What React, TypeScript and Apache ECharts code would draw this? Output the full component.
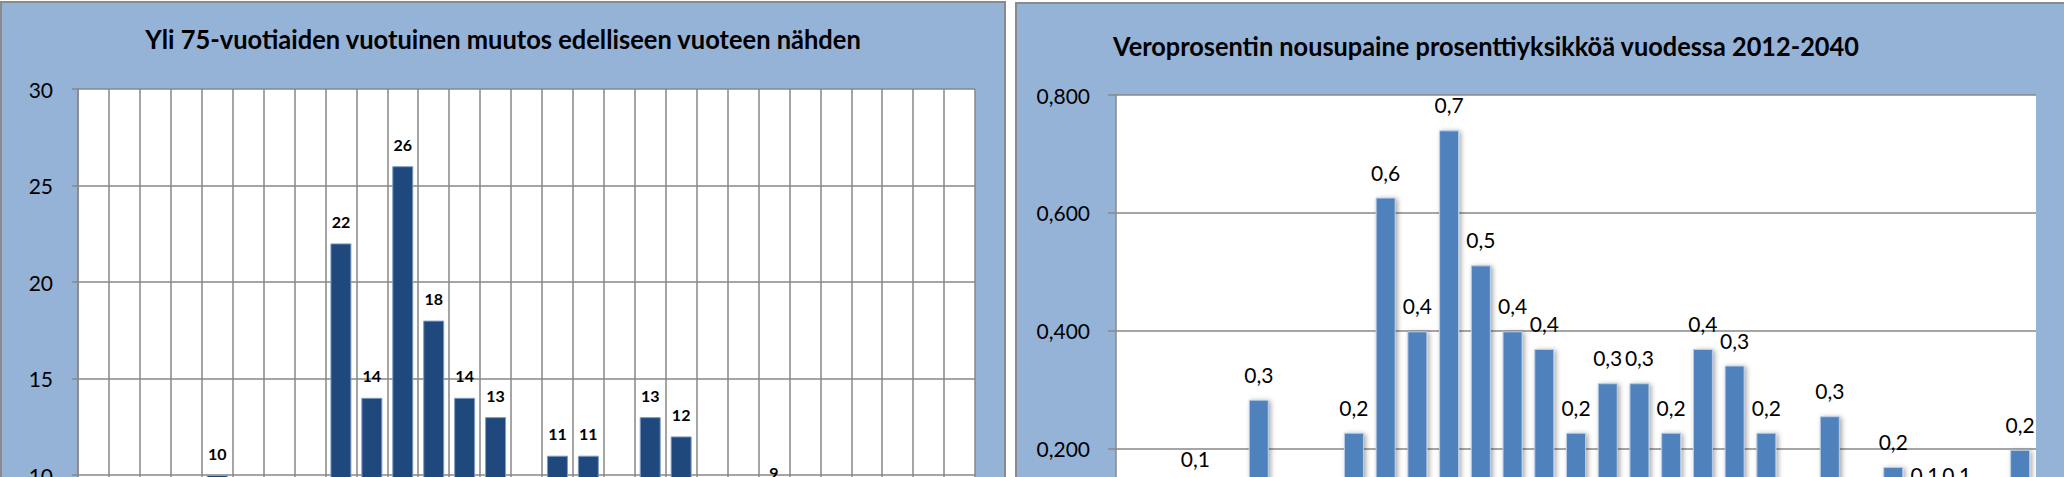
import React, { useEffect, useRef } from "react";
import * as echarts from "echarts";

const years: string[] = [];
for (let y = 2012; y <= 2040; y++) years.push(String(y));

const leftTitle = "Yli 75-vuotiaiden vuotuinen muutos edelliseen vuoteen nähden";
const rightTitle = "Veroprosentin nousupaine prosenttiyksikköä vuodessa 2012-2040";

// Change of the 75+ population from the previous year
const over75Change = [6, 7, 5, 8, 10, 8, 7, 6, 22, 14, 26, 18, 14, 13, 8, 11, 11, 8, 13, 12, 7, 6, 9, 5, 4, 6, 5, 3, 4];
// Tax-rate pressure, percentage points per year
const taxPressure = [0.05, 0.07, 0.14, 0.06, 0.283, 0.08, 0.07, 0.227, 0.626, 0.399, 0.74, 0.511, 0.399, 0.369, 0.227, 0.311, 0.311, 0.227, 0.369, 0.341, 0.227, 0.08, 0.255, 0.07, 0.169, 0.113, 0.113, 0.08, 0.198];

const leftTicks = { min: 0, max: 30, interval: 5 };
const rightTicks = { min: 0, max: 0.8, interval: 0.2 };

// lowest values whose labels fall inside the visible (cropped) window
const leftVisibleFrom = { tick: 10, label: 9 };
const rightVisibleFrom = { tick: 0.2, label: 0.11 };

const PANEL = "#95B3D7";
const GRID = "#878787";
const FONT = "Lato, 'Noto Sans', sans-serif";

export default function App() {
  const ref = useRef<HTMLDivElement>(null);
  useEffect(() => {
    if (!ref.current) return;
    const chart = echarts.init(ref.current, undefined, { renderer: "svg" });
    const fmtComma = (v: number, d: number) => v.toFixed(d).replace(".", ",");
    chart.setOption({
      animation: false,
      backgroundColor: "#ffffff",
      textStyle: { fontFamily: FONT },
      graphic: [
        {
          type: "rect",
          z: -10,
          shape: { x: 1, y: 2, width: 1004, height: 900 },
          style: { fill: PANEL, stroke: "#8a8a8a", lineWidth: 2 },
        },
        {
          type: "rect",
          z: -10,
          shape: { x: 1016, y: 3, width: 1200, height: 900 },
          style: { fill: PANEL, stroke: "#8a8a8a", lineWidth: 2 },
        },
        {
          type: "text",
          x: 503,
          y: 39,
          scaleX: 0.98,
          style: {
            text: leftTitle,
            font: `bold 26px ${FONT}`,
            fill: "#000",
            align: "center",
            verticalAlign: "middle",
          },
        },
        {
          type: "text",
          x: 1486,
          y: 46,
          scaleX: 0.975,
          style: {
            text: rightTitle,
            font: `bold 26px ${FONT}`,
            fill: "#000",
            align: "center",
            verticalAlign: "middle",
          },
        },
      ],
      grid: [
        { left: 78, top: 89, width: 897, height: 579, show: true, backgroundColor: "#fff", borderWidth: 0, containLabel: false },
        { left: 1116, top: 95, width: 920, height: 471.5, show: true, backgroundColor: "#fff", borderWidth: 0, containLabel: false },
      ],
      xAxis: [
        {
          type: "category",
          gridIndex: 0,
          data: years,
          boundaryGap: true,
          axisLine: { show: true, lineStyle: { color: GRID, width: 1.5 } },
          axisTick: { show: false },
          axisLabel: { show: false },
          splitLine: { show: true, interval: 0, lineStyle: { color: GRID, width: 1.5 } },
        },
        {
          type: "category",
          gridIndex: 1,
          data: years,
          boundaryGap: true,
          axisLine: { show: true, lineStyle: { color: GRID, width: 1.5 } },
          axisTick: { show: false },
          axisLabel: { show: false },
          splitLine: { show: false },
        },
      ],
      yAxis: [
        {
          type: "value",
          gridIndex: 0,
          ...leftTicks,
          axisLine: { show: true, lineStyle: { color: GRID, width: 1.5 } },
          axisTick: { show: true, length: 6, lineStyle: { color: GRID, width: 1.5 } },
          axisLabel: {
            color: "#000",
            fontSize: 21,
            fontFamily: FONT,
            margin: 25,
            formatter: (v: number) => (v >= leftVisibleFrom.tick ? String(v) : ""),
          },
          splitLine: { show: true, lineStyle: { color: GRID, width: 1.5 } },
        },
        {
          type: "value",
          gridIndex: 1,
          ...rightTicks,
          axisLine: { show: true, lineStyle: { color: GRID, width: 1.5 } },
          axisTick: { show: true, length: 8, lineStyle: { color: GRID, width: 1.5 } },
          axisLabel: {
            color: "#000",
            fontSize: 21,
            fontFamily: FONT,
            margin: 26,
            formatter: (v: number) => (v >= rightVisibleFrom.tick - 1e-9 ? fmtComma(v, 3) : ""),
          },
          splitLine: { show: true, lineStyle: { color: GRID, width: 1.5 } },
        },
      ],
      series: [
        {
          type: "bar",
          xAxisIndex: 0,
          yAxisIndex: 0,
          data: over75Change,
          barWidth: 21,
          itemStyle: { color: "#1F497D", borderColor: "#7f9cc4", borderWidth: 1 },
          label: {
            show: true,
            position: "top",
            distance: 14,
            color: "#000",
            fontSize: 16,
            fontWeight: "bold",
            fontFamily: FONT,
            formatter: (p: any) => (p.value >= leftVisibleFrom.label ? String(Math.round(p.value)) : ""),
          },
        },
        {
          type: "bar",
          xAxisIndex: 1,
          yAxisIndex: 1,
          data: taxPressure,
          barWidth: 20,
          itemStyle: {
            color: "#4F81BD",
            borderColor: "#b9cde5",
            borderWidth: 1,
            shadowBlur: 5,
            shadowColor: "rgba(0,0,0,0.35)",
            shadowOffsetX: 2,
            shadowOffsetY: 1,
          },
          label: {
            show: true,
            position: "top",
            distance: 15,
            color: "#000",
            fontSize: 21,
            fontFamily: FONT,
            formatter: (p: any) => (p.value >= rightVisibleFrom.label ? fmtComma(p.value, 1) : ""),
          },
        },
      ],
    });
    return () => chart.dispose();
  }, []);
  return (
    <div style={{ position: "absolute", left: 0, top: 0, width: 2064, height: 477, overflow: "hidden", background: "#fff" }}>
      <div ref={ref} style={{ width: 2064, height: 800 }} />
    </div>
  );
}
